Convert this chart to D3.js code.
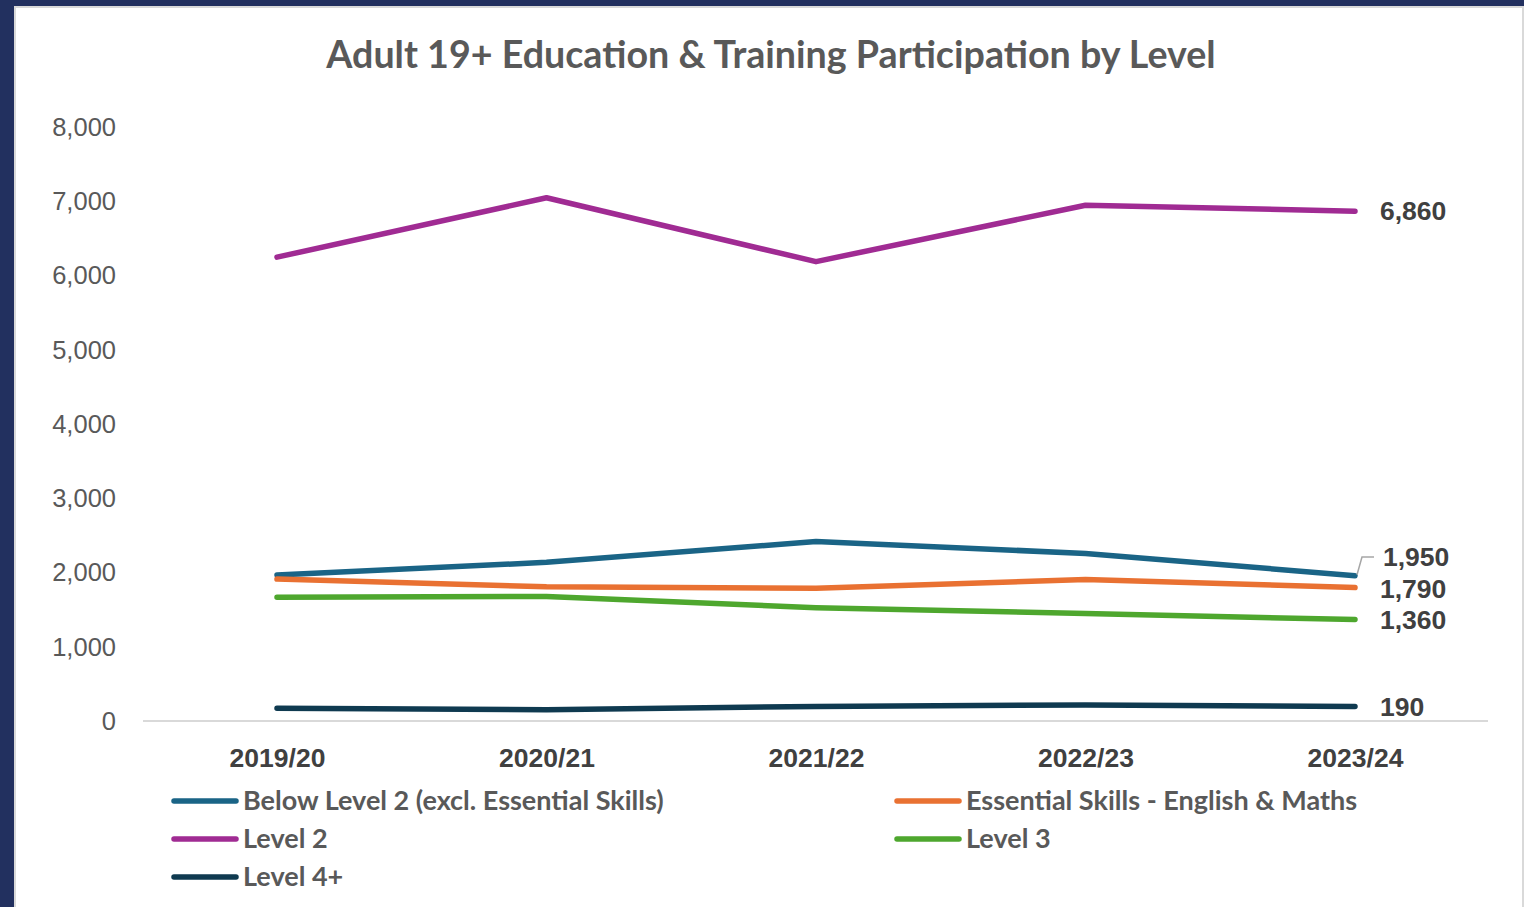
<!DOCTYPE html>
<html><head><meta charset="utf-8">
<script src="https://cdn.jsdelivr.net/npm/d3@7"></script>
<style>
html,body{margin:0;padding:0;background:#22305f;overflow:hidden;}
svg{display:block;}
</style></head>
<body>
<svg id="chart" width="1524" height="907"></svg>
<script>
const categories = ["2019/20","2020/21","2021/22","2022/23","2023/24"];
const seriesNames = ["Below Level 2 (excl. Essential Skills)","Essential Skills - English & Maths","Level 2","Level 3","Level 4+"];
const belowLevel2 = [1960, 2130, 2410, 2250, 1950];
const essentialSkills = [1905, 1800, 1780, 1900, 1790];
const level2 = [6240, 7040, 6180, 6940, 6860];
const level3 = [1660, 1670, 1520, 1440, 1360];
const level4 = [165, 145, 190, 210, 190];
const yTicks = [0,1000,2000,3000,4000,5000,6000,7000,8000];
const colors = ["#1a6486","#e97132","#a02b93","#4ea72e","#0f3a50"];

const series = [belowLevel2, essentialSkills, level2, level3, level4].map((v,i)=>({name:seriesNames[i], values:v, color:colors[i]}));

const svg = d3.select("#chart");
// panel
svg.append("rect").attr("x",14).attr("y",6).attr("width",1510).attr("height",901).attr("fill","#d9d9d9");
svg.append("rect").attr("x",16).attr("y",8).attr("width",1506).attr("height",899).attr("fill","#ffffff");

const x = d3.scalePoint().domain(categories).range([277,1355]);
const y = d3.scaleLinear().domain([0,8000]).range([720.5,126.5]);

function fit(sel, target){ const w = sel.node().getComputedTextLength(); const fs = +sel.attr("font-size"); sel.attr("font-size", fs*target/w); }

// title
const title = svg.append("text").attr("x",771).attr("y",68).attr("text-anchor","middle")
  .attr("font-family","Lato, 'Open Sans', sans-serif").attr("font-weight","bold")
  .attr("font-size",34).attr("fill","#595959")
  .text("Adult 19+ Education & Training Participation by Level");
fit(title, 890);

// y axis labels
const yAxis = d3.axisLeft(y).tickValues(yTicks).tickFormat(d3.format(",")).tickSize(0).tickPadding(0);
const gy = svg.append("g").attr("transform","translate(116,0)").call(yAxis);
gy.select(".domain").remove();
gy.selectAll("text").attr("font-family","'Liberation Sans', Arial, sans-serif").attr("font-size",25.5).attr("fill","#595959").attr("dy","0.35em");

// x axis
const xAxis = d3.axisBottom(x).tickSize(0).tickPadding(0);
const gx = svg.append("g").attr("transform","translate(0,721)").call(xAxis);
gx.select(".domain").remove();
gx.selectAll("text").attr("font-family","'Liberation Sans', Arial, sans-serif").attr("font-weight","bold").attr("font-size",26.5).attr("fill","#404040").attr("dy","0").attr("y",46);
svg.append("line").attr("x1",143).attr("x2",1488).attr("y1",721).attr("y2",721).attr("stroke","#d9d9d9").attr("stroke-width",2);

// lines
const line = d3.line().x((d,i)=>x(categories[i])).y(d=>y(d));
const order = [2,0,1,3,4];
order.forEach(i=>{
  const s = series[i];
  svg.append("path").attr("d",line(s.values)).attr("fill","none").attr("stroke",s.color)
    .attr("stroke-width",5.5).attr("stroke-linecap","round").attr("stroke-linejoin","round");
});

// data labels at last point
const lastX = x(categories[4]);
const labFont = "'Liberation Sans', Arial, sans-serif";
const labelPos = [
  {i:2, dx:25, yy: y(level2[4])},
  {i:0, dx:28, yy: 557},
  {i:1, dx:25, yy: 589},
  {i:3, dx:25, yy: 620},
  {i:4, dx:25, yy: 707}
];
labelPos.forEach(p=>{
  svg.append("text").attr("x",lastX+p.dx).attr("y",p.yy).attr("dy","0.35em")
    .attr("font-family",labFont).attr("font-weight","bold").attr("font-size",26.5).attr("fill","#404040")
    .text(d3.format(",")(series[p.i].values[4]));
});
// leader line for 1,950
svg.append("path").attr("d",`M${lastX+2},${y(belowLevel2[4])-1} L${lastX+7},${557} L${lastX+19},${557}`)
  .attr("fill","none").attr("stroke","#a6a6a6").attr("stroke-width",1.5);

// legend
const legendItems = [
  {i:0, lx:172, ly:801},
  {i:1, lx:895, ly:801},
  {i:2, lx:172, ly:839},
  {i:3, lx:895, ly:839},
  {i:4, lx:172, ly:877}
];
legendItems.forEach(it=>{
  const s = series[it.i];
  svg.append("line").attr("x1",it.lx+2).attr("x2",it.lx+64).attr("y1",it.ly).attr("y2",it.ly)
    .attr("stroke",s.color).attr("stroke-width",5.5).attr("stroke-linecap","round");
  svg.append("text").attr("x",it.lx+71).attr("y",it.ly).attr("dy","0.35em")
    .attr("font-family","Lato, 'Open Sans', sans-serif").attr("font-weight","bold").attr("font-size",27).attr("fill","#595959")
    .text(s.name);
});
</script>
</body></html>
